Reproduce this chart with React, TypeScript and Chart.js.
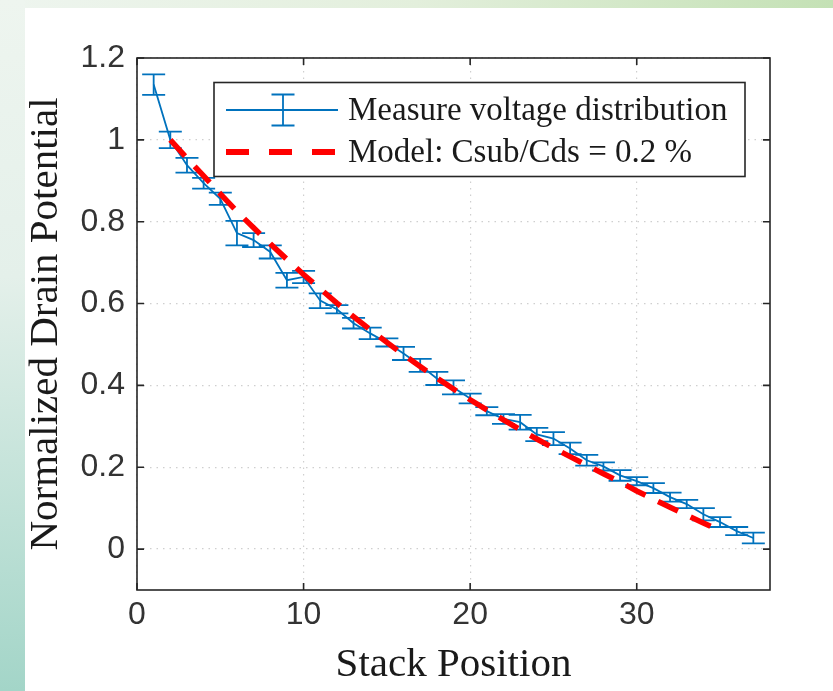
import React, { useEffect, useRef } from "react";
import { Chart, registerables } from "chart.js";

Chart.register(...registerables);

// Measured stack voltage distribution (normalized), with error half-widths
const stackPositions = [
  1, 2, 3, 4, 5, 6, 7, 8, 9, 10, 11, 12, 13, 14, 15, 16, 17, 18, 19, 20,
  21, 22, 23, 24, 25, 26, 27, 28, 29, 30, 31, 32, 33, 34, 35, 36, 37,
];
const measuredPotential = [
  1.135, 1.0, 0.938, 0.894, 0.856, 0.772, 0.755, 0.726, 0.657, 0.665,
  0.607, 0.586, 0.552, 0.527, 0.505, 0.478, 0.449, 0.417, 0.395, 0.368,
  0.337, 0.318, 0.31, 0.28, 0.27, 0.246, 0.217, 0.202, 0.18, 0.166,
  0.149, 0.127, 0.11, 0.085, 0.066, 0.044, 0.027,
];
const measuredError = [
  0.025, 0.02, 0.018, 0.013, 0.015, 0.03, 0.017, 0.016, 0.018, 0.015,
  0.018, 0.01, 0.013, 0.014, 0.01, 0.016, 0.016, 0.016, 0.017, 0.012,
  0.01, 0.012, 0.018, 0.016, 0.016, 0.014, 0.013, 0.01, 0.013, 0.01,
  0.012, 0.011, 0.01, 0.015, 0.012, 0.01, 0.013,
];

// Capacitive-ladder model curve
const modelPositions = [
  2, 3, 4, 5, 6, 7, 8, 9, 10, 11, 12, 13, 14, 15, 16, 17, 18, 19, 20, 21,
  22, 23, 24, 25, 26, 27, 28, 29, 30, 31, 32, 33, 34, 35,
];
const modelPotential = [
  1.0, 0.955, 0.912, 0.868, 0.825, 0.785, 0.746, 0.708, 0.671, 0.636,
  0.601, 0.568, 0.536, 0.505, 0.475, 0.446, 0.418, 0.391, 0.365, 0.34,
  0.316, 0.292, 0.269, 0.247, 0.226, 0.205, 0.184, 0.164, 0.142, 0.122,
  0.102, 0.083, 0.064, 0.045,
];

const xTickValues = [0, 10, 20, 30];
const yTickValues = [0, 0.2, 0.4, 0.6, 0.8, 1, 1.2];
const xRange = [0, 38];
const yRange = [-0.1, 1.2];

const seriesLabels = ["Measure voltage distribution", "Model: Csub/Cds = 0.2 %"];
const xAxisTitle = "Stack Position";
const yAxisTitle = "Normalized Drain Potential";

const BLUE = "#0072BD";
const RED = "#ff0000";
const AXIS = "#262626";
const SERIF = "'Liberation Serif', 'Times New Roman', serif";
const SANS = "'Liberation Sans', Arial, Helvetica, sans-serif";
const CAP_HALF = 11.5;

// Vertical error bars with caps, drawn right after the measured line
const errorBarPlugin = {
  id: "errorBars",
  afterDatasetDraw(chart: any, args: any) {
    if (args.index !== 0) return;
    const { ctx, scales } = chart;
    const x = scales.x;
    const y = scales.y;
    ctx.save();
    ctx.strokeStyle = BLUE;
    ctx.lineWidth = 1.8;
    ctx.beginPath();
    stackPositions.forEach((p, i) => {
      const px = x.getPixelForValue(p);
      const hi = y.getPixelForValue(measuredPotential[i] + measuredError[i]);
      const lo = y.getPixelForValue(measuredPotential[i] - measuredError[i]);
      ctx.moveTo(px, hi);
      ctx.lineTo(px, lo);
      ctx.moveTo(px - CAP_HALF, hi);
      ctx.lineTo(px + CAP_HALF, hi);
      ctx.moveTo(px - CAP_HALF, lo);
      ctx.lineTo(px + CAP_HALF, lo);
    });
    ctx.stroke();
    ctx.restore();
  },
};

// Boxed axes with inward tick marks on all four sides
const framePlugin = {
  id: "frame",
  beforeDatasetsDraw(chart: any) {
    const { ctx, chartArea: a, scales } = chart;
    const tick = 7;
    ctx.save();
    ctx.strokeStyle = AXIS;
    ctx.lineWidth = 1.6;
    ctx.beginPath();
    xTickValues.forEach((v) => {
      const px = scales.x.getPixelForValue(v);
      ctx.moveTo(px, a.bottom);
      ctx.lineTo(px, a.bottom - tick);
      ctx.moveTo(px, a.top);
      ctx.lineTo(px, a.top + tick);
    });
    yTickValues.forEach((v) => {
      const py = scales.y.getPixelForValue(v);
      ctx.moveTo(a.left, py);
      ctx.lineTo(a.left + tick, py);
      ctx.moveTo(a.right, py);
      ctx.lineTo(a.right - tick, py);
    });
    ctx.stroke();
    ctx.strokeRect(a.left, a.top, a.right - a.left, a.bottom - a.top);
    ctx.restore();
  },
};

// Boxed legend in the upper part of the axes
const legendBoxPlugin = {
  id: "legendBox",
  afterDraw(chart: any) {
    const { ctx, chartArea: a } = chart;
    const left = a.left + 77;
    const top = a.top + 24.5;
    const w = 531;
    const h = 94;
    const row1 = top + 27.5;
    const row2 = top + 69.5;
    const iconL = left + 12;
    const iconR = left + 124;
    const iconMid = left + 69;
    const textX = left + 134;
    ctx.save();
    ctx.fillStyle = "#ffffff";
    ctx.fillRect(left, top, w, h);
    ctx.strokeStyle = AXIS;
    ctx.lineWidth = 1.6;
    ctx.strokeRect(left, top, w, h);

    ctx.strokeStyle = BLUE;
    ctx.lineWidth = 1.8;
    ctx.beginPath();
    ctx.moveTo(iconL, row1);
    ctx.lineTo(iconR, row1);
    ctx.moveTo(iconMid, row1 - 15.5);
    ctx.lineTo(iconMid, row1 + 15.5);
    ctx.moveTo(iconMid - CAP_HALF, row1 - 15.5);
    ctx.lineTo(iconMid + CAP_HALF, row1 - 15.5);
    ctx.moveTo(iconMid - CAP_HALF, row1 + 15.5);
    ctx.lineTo(iconMid + CAP_HALF, row1 + 15.5);
    ctx.stroke();

    ctx.strokeStyle = RED;
    ctx.lineWidth = 6;
    ctx.setLineDash([23, 20]);
    ctx.beginPath();
    ctx.moveTo(iconL, row2);
    ctx.lineTo(iconR - 1, row2);
    ctx.stroke();
    ctx.setLineDash([]);

    ctx.fillStyle = "#1a1a1a";
    ctx.font = `33px ${SERIF}`;
    ctx.textBaseline = "middle";
    ctx.textAlign = "left";
    ctx.fillText(seriesLabels[0], textX, row1 + 1);
    ctx.fillText(seriesLabels[1], textX, row2 + 1);
    ctx.restore();
  },
};

export default function App() {
  const canvasRef = useRef<HTMLCanvasElement | null>(null);

  useEffect(() => {
    const canvas = canvasRef.current;
    if (!canvas) return;
    const chart = new Chart(canvas, {
      type: "line",
      data: {
        datasets: [
          {
            label: seriesLabels[0],
            data: stackPositions.map((p, i) => ({ x: p, y: measuredPotential[i] })),
            borderColor: BLUE,
            borderWidth: 1.8,
            pointRadius: 0,
            fill: false,
            tension: 0,
            order: 1,
          },
          {
            label: seriesLabels[1],
            data: modelPositions.map((p, i) => ({ x: p, y: modelPotential[i] })),
            borderColor: RED,
            borderWidth: 5.5,
            borderDash: [22, 14],
            borderCapStyle: "butt",
            pointRadius: 0,
            fill: false,
            tension: 0,
            order: 0,
          },
        ],
      },
      options: {
        animation: false,
        responsive: false,
        devicePixelRatio: 1,
        layout: { padding: { left: 20, top: 58, right: 63, bottom: 0 } },
        plugins: {
          legend: { display: false },
          tooltip: { enabled: false },
        },
        scales: {
          x: {
            type: "linear",
            min: xRange[0],
            max: xRange[1],
            afterBuildTicks: (scale: any) => {
              scale.ticks = xTickValues.map((v) => ({ value: v }));
            },
            afterFit: (scale: any) => {
              scale.height = 101;
            },
            grid: { color: "#cfcfcf", lineWidth: 1.2, drawTicks: false },
            border: { display: false, dash: [1.5, 5] },
            ticks: {
              autoSkip: false,
              maxRotation: 0,
              padding: 6,
              color: "#333333",
              font: { family: SANS, size: 32 },
              callback: (v: any) => String(v),
            },
            title: {
              display: true,
              text: xAxisTitle,
              color: "#1a1a1a",
              font: { family: SERIF, size: 41 },
              padding: { top: 0, bottom: 1.4 },
            },
          },
          y: {
            type: "linear",
            min: yRange[0],
            max: yRange[1],
            afterBuildTicks: (scale: any) => {
              scale.ticks = yTickValues.map((v) => ({ value: v }));
            },
            afterFit: (scale: any) => {
              scale.width = 117;
            },
            grid: { color: "#cfcfcf", lineWidth: 1.2, drawTicks: false },
            border: { display: false, dash: [1.5, 5] },
            ticks: {
              autoSkip: false,
              padding: 12,
              color: "#333333",
              font: { family: SANS, size: 32 },
              callback: (v: any) => String(v),
            },
            title: {
              display: true,
              text: yAxisTitle,
              color: "#1a1a1a",
              font: { family: SERIF, size: 41 },
              padding: { top: 1.4, bottom: 0 },
            },
          },
        },
      },
      plugins: [framePlugin, errorBarPlugin, legendBoxPlugin],
    });
    return () => chart.destroy();
  }, []);

  return (
    <div
      style={{
        position: "fixed",
        left: 0,
        top: 0,
        width: 833,
        height: 691,
        overflow: "hidden",
        background: "#ffffff",
      }}
    >
      <div
        style={{
          position: "absolute",
          left: 0,
          top: 0,
          width: 833,
          height: 8,
          background: "linear-gradient(to right, #eef5ef, #e3efdc 50%, #c4e1b5)",
        }}
      />
      <div
        style={{
          position: "absolute",
          left: 0,
          top: 0,
          width: 25,
          height: 691,
          background: "linear-gradient(to bottom, #eef5ef, #e4f0ea 40%, #a3d5c8)",
        }}
      />
      <canvas
        ref={canvasRef}
        width={833}
        height={691}
        style={{ position: "absolute", left: 0, top: 0, width: 833, height: 691 }}
      />
    </div>
  );
}
